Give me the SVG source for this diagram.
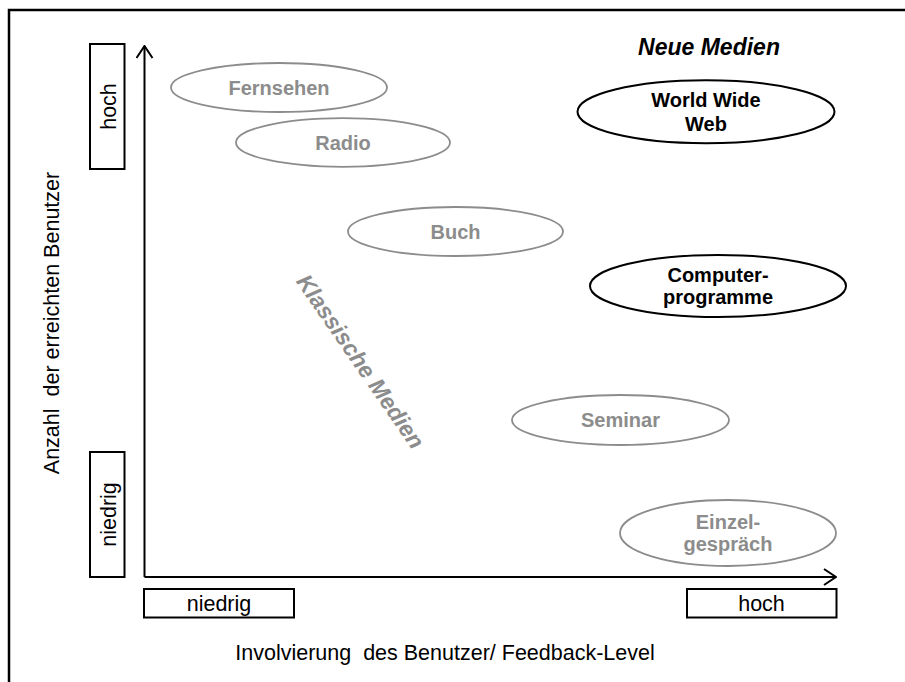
<svg xmlns="http://www.w3.org/2000/svg" width="905" height="682" viewBox="0 0 905 682">
<defs>
<marker id="arr" viewBox="0 0 14 18" refX="13" refY="9" markerWidth="14" markerHeight="18" markerUnits="userSpaceOnUse" orient="auto">
<path d="M1,1 L13,9 L1,17" fill="none" stroke="#000" stroke-width="2"/>
</marker>
<style>
.t{font-family:"Liberation Sans",Arial,sans-serif;}
.lbl{font-family:"Liberation Sans",Arial,sans-serif;font-size:21.5px;fill:#000;white-space:pre;}
.box{fill:#fff;stroke:#000;stroke-width:2;}
.eg{fill:#fff;stroke:#8c8c8c;stroke-width:1.8;}
.eb{fill:#fff;stroke:#000;stroke-width:2;}
.tg{font-family:"Liberation Sans",Arial,sans-serif;font-size:20px;font-weight:bold;fill:#8c8c8c;text-anchor:middle;}
.tb{font-family:"Liberation Sans",Arial,sans-serif;font-size:20px;font-weight:bold;fill:#000;text-anchor:middle;}
</style>
</defs>
<rect width="905" height="682" fill="#fff"/>
<path d="M9,682 L9,10 L905,10" fill="none" stroke="#000" stroke-width="2.5"/>
<g id="connectors">
<line x1="144.5" y1="577" x2="144.5" y2="46" stroke="#000" stroke-width="2" marker-end="url(#arr)"/>
<line x1="144.5" y1="577" x2="836" y2="577" stroke="#000" stroke-width="2" marker-end="url(#arr)"/>
</g>
<g id="y-label"><text class="lbl" xml:space="preserve" text-anchor="middle" transform="translate(59,323) rotate(-90)">Anzahl  der erreichten Benutzer</text></g>
<g id="x-label"><text class="lbl" xml:space="preserve" x="445" y="660" text-anchor="middle">Involvierung  des Benutzer/ Feedback-Level</text></g>
<g id="y-hoch"><rect class="box" x="90" y="44" width="34.5" height="125"/><text class="lbl" text-anchor="middle" transform="translate(115.5,106.5) rotate(-90)">hoch</text></g>
<g id="y-niedrig"><rect class="box" x="90" y="452" width="34.5" height="125"/><text class="lbl" text-anchor="middle" transform="translate(115.5,514.5) rotate(-90)">niedrig</text></g>
<g id="x-niedrig"><rect class="box" x="144" y="589" width="150" height="28.5"/><text class="lbl" x="219" y="610.5" text-anchor="middle">niedrig</text></g>
<g id="x-hoch"><rect class="box" x="687" y="589" width="149.5" height="28.5"/><text class="lbl" x="761.5" y="610.5" text-anchor="middle">hoch</text></g>
<g id="neue-medien"><text class="t" x="709" y="55" font-size="23" font-weight="bold" font-style="italic" text-anchor="middle">Neue Medien</text></g>
<g id="klassische-medien"><text class="t" font-size="23" font-weight="bold" font-style="italic" fill="#8c8c8c" text-anchor="middle" transform="translate(354,366) rotate(55.3)">Klassische Medien</text></g>
<g id="fernsehen"><ellipse class="eg" cx="279" cy="87.5" rx="108" ry="24.5"/><text class="tg" x="279" y="94.5">Fernsehen</text></g>
<g id="radio"><ellipse class="eg" cx="343" cy="142.5" rx="107" ry="24.3"/><text class="tg" x="343" y="149.5">Radio</text></g>
<g id="buch"><ellipse class="eg" cx="455.5" cy="231.5" rx="107.5" ry="24.5"/><text class="tg" x="455.5" y="238.5">Buch</text></g>
<g id="seminar"><ellipse class="eg" cx="620.5" cy="420" rx="108.5" ry="25"/><text class="tg" x="620.5" y="427">Seminar</text></g>
<g id="einzelgespraech"><ellipse class="eg" cx="728" cy="533" rx="108" ry="33"/><text class="tg" x="728" y="528.5">Einzel-</text><text class="tg" x="728" y="551">gespräch</text></g>
<g id="www"><ellipse class="eb" cx="706" cy="111.7" rx="128.5" ry="31.5"/><text class="tb" x="706" y="107">World Wide</text><text class="tb" x="706" y="130.5">Web</text></g>
<g id="computerprogramme"><ellipse class="eb" cx="718" cy="286" rx="128" ry="31"/><text class="tb" x="718" y="282">Computer-</text><text class="tb" x="718" y="304">programme</text></g>
</svg>
